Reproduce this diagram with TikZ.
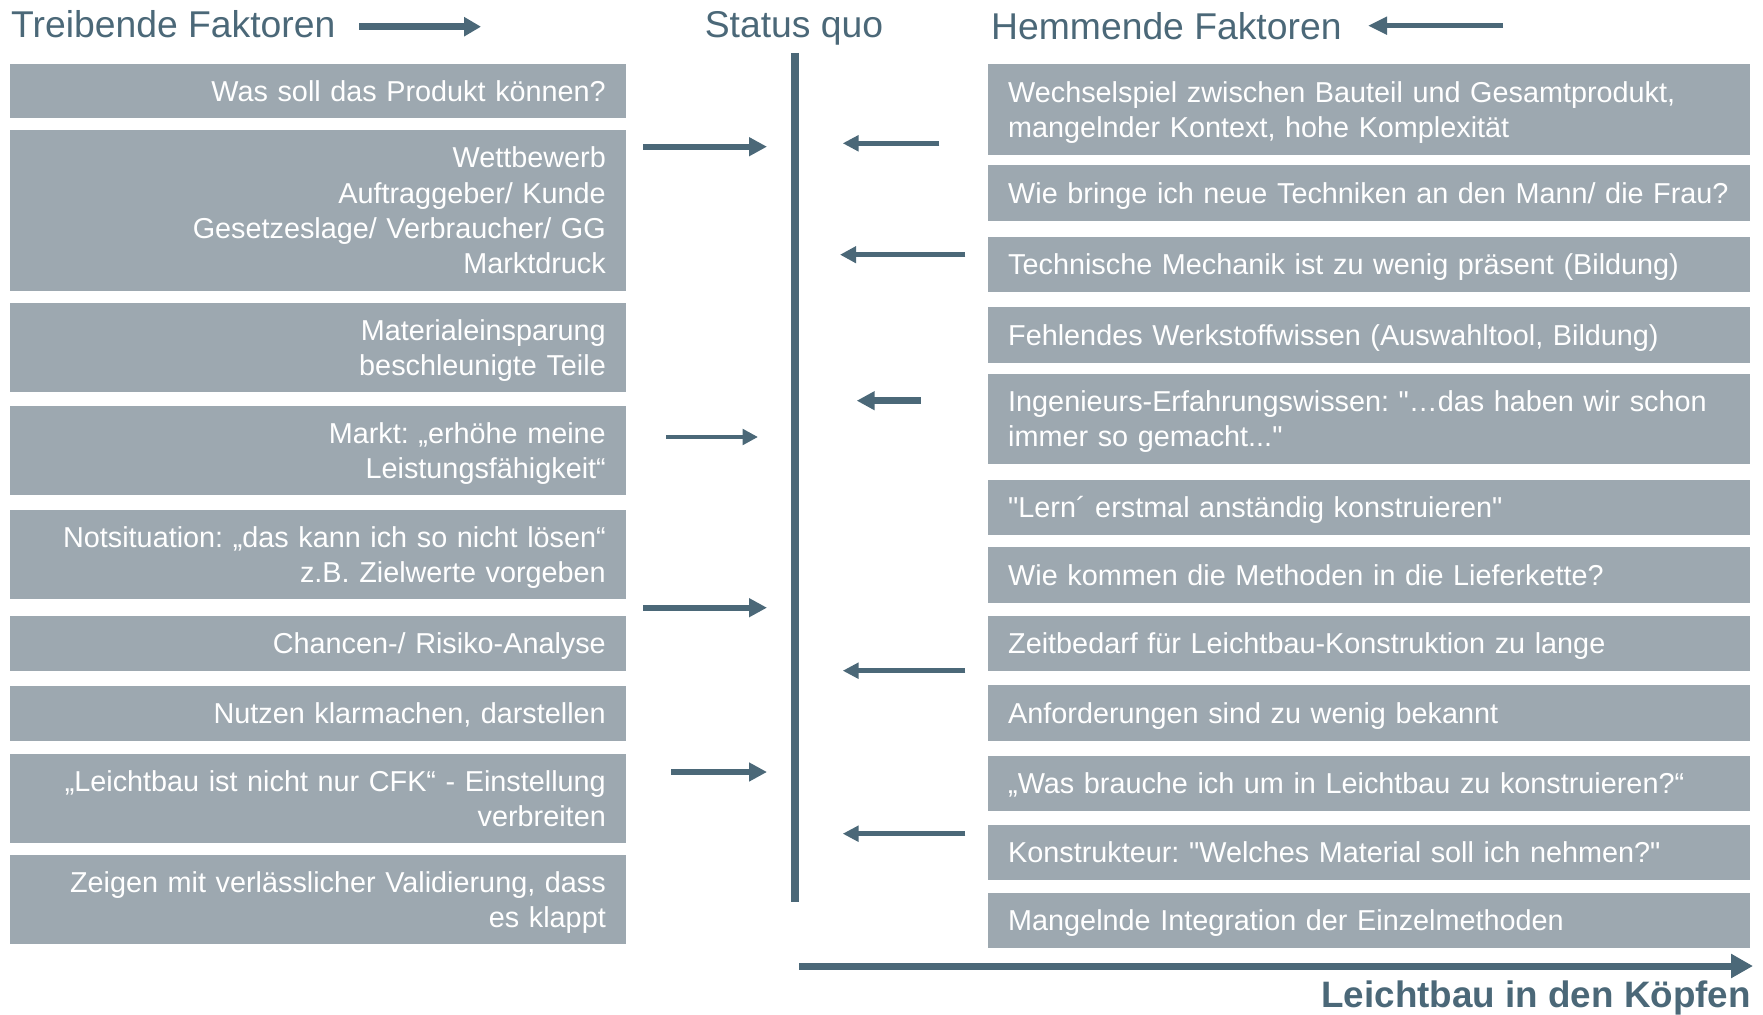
\documentclass[tikz,border=0pt]{standalone}
\usepackage{fontspec}
\setmainfont{Liberation Sans}[Ligatures=TeXOff]
\usetikzlibrary{arrows.meta}
\definecolor{boxgray}{HTML}{9DA8B0}
\definecolor{slate}{HTML}{4B6878}
\frenchspacing
\tikzset{
  fbox/.style={fill=boxgray, draw=none, inner sep=0pt, minimum width=616pt},
  rfbox/.style={fill=boxgray, draw=none, inner sep=0pt, minimum width=762pt},
  ltxt/.style={inner sep=0pt, text=white, text width=576pt, align=right, font=\fontsize{28.8}{35.3}\selectfont\frenchspacing},
  rtxt/.style={inner sep=0pt, text=white, text width=730pt, align=left, font=\fontsize{28.8}{35.3}\selectfont\frenchspacing},
  head/.style={inner sep=0pt, text=slate, font=\fontsize{37.3}{44}\selectfont},
  arr/.style={draw=slate},
}
\newcommand\LBox[5]{%
  \pgfmathsetmacro\myH{#3-#2}%
  \pgfmathsetmacro\myB{(#2+#3)/2+10.3-(#4-1)*17.65}%
  \node[fbox, minimum height=\myH pt, anchor=north west] (#1) at (10,#2) {};
  \node[ltxt, anchor=base east] (#1t) at (606,\myB) {#5};
}
\newcommand\RBox[5]{%
  \pgfmathsetmacro\myH{#3-#2}%
  \pgfmathsetmacro\myB{(#2+#3)/2+10.3-(#4-1)*17.65}%
  \node[rfbox, minimum height=\myH pt, anchor=north west] (#1) at (988,#2) {};
  \node[rtxt, anchor=base west] (#1t) at (1008,\myB) {#5};
}
\begin{document}
\begin{tikzpicture}[x=1pt,y=-1pt]
\path[use as bounding box] (0,0) rectangle (1763,1014);

% headers
\node[head, anchor=base west] (thead) at (11,37.3) {Treibende Faktoren};
\node[head, anchor=base] (shead) at (794,37.3) {Status quo};
\node[head, anchor=base west] (hhead) at (991,39.3) {Hemmende Faktoren};

% left boxes
\LBox{l1}{64}{118}{1}{Was soll das Produkt können?}
\LBox{l2}{130}{291}{4}{Wettbewerb\\Auftraggeber/ Kunde\\Gesetzeslage/ Verbraucher/ GG\\Marktdruck}
\LBox{l3}{303}{392}{2}{Materialeinsparung\\beschleunigte Teile}
\LBox{l4}{406}{495}{2}{Markt: „erhöhe meine\\Leistungsfähigkeit“}
\LBox{l5}{510}{599}{2}{Notsituation: „das kann ich so nicht lösen“\\z.B. Zielwerte vorgeben}
\LBox{l6}{616}{670.5}{1}{Chancen-/ Risiko-Analyse}
\LBox{l7}{686}{740.5}{1}{Nutzen klarmachen, darstellen}
\LBox{l8}{754}{843}{2}{„Leichtbau ist nicht nur CFK“ - Einstellung\\verbreiten}
\LBox{l9}{855}{944}{2}{Zeigen mit verlässlicher Validierung, dass\\es klappt}

% right boxes
\RBox{r1}{64}{155}{2}{Wechselspiel zwischen Bauteil und Gesamtprodukt,\\mangelnder Kontext, hohe Komplexität}
\RBox{r2}{165}{221}{1}{Wie bringe ich neue Techniken an den Mann/ die Frau?}
\RBox{r3}{237}{292}{1}{Technische Mechanik ist zu wenig präsent (Bildung)}
\RBox{r4}{307}{363}{1}{Fehlendes Werkstoffwissen (Auswahltool, Bildung)}
\RBox{r5}{374}{464}{2}{Ingenieurs-Erfahrungswissen: "…das haben wir schon\\immer so gemacht..."}
\RBox{r6}{480}{535}{1}{"Lern´ erstmal anständig konstruieren"}
\RBox{r7}{547}{603}{1}{Wie kommen die Methoden in die Lieferkette?}
\RBox{r8}{616}{671}{1}{Zeitbedarf für Leichtbau-Konstruktion zu lange}
\RBox{r9}{685}{741}{1}{Anforderungen sind zu wenig bekannt}
\RBox{r10}{756}{811}{1}{„Was brauche ich um in Leichtbau zu konstruieren?“}
\RBox{r11}{825}{880}{1}{Konstrukteur: "Welches Material soll ich nehmen?"}
\RBox{r12}{893}{948}{1}{Mangelnde Integration der Einzelmethoden}

% status quo line
\coordinate (vtop) at (795,53);
\coordinate (vbot) at (795,902);
\draw[arr, line width=8pt] (vtop) -- (vbot);

% header arrows
\coordinate (ths) at (359,26.7); \coordinate (the) at (481,26.7);
\draw[arr, line width=6.5pt, -{Triangle[length=17pt,width=18.5pt]}] (ths) -- (the);
\coordinate (hhs) at (1503,25.7); \coordinate (hhe) at (1368,25.7);
\draw[arr, line width=5.5pt, -{Triangle[length=19pt,width=17pt]}] (hhs) -- (hhe);

% driving arrows
\coordinate (a1s) at (643,146.7); \coordinate (a1e) at (767,146.7);
\draw[arr, line width=6pt, -{Triangle[length=18pt,width=18pt]}] (a1s) -- (a1e);
\coordinate (a2s) at (666,437); \coordinate (a2e) at (758,437);
\draw[arr, line width=4.7pt, -{Triangle[length=15.5pt,width=15.5pt]}] (a2s) -- (a2e);
\coordinate (a3s) at (643,607.7); \coordinate (a3e) at (767,607.7);
\draw[arr, line width=6pt, -{Triangle[length=18pt,width=18pt]}] (a3s) -- (a3e);
\coordinate (a4s) at (671,772); \coordinate (a4e) at (767,772);
\draw[arr, line width=6pt, -{Triangle[length=18pt,width=18pt]}] (a4s) -- (a4e);

% restraining arrows
\coordinate (b1s) at (939.3,143.3); \coordinate (b1e) at (842.7,143.3);
\draw[arr, line width=4.7pt, -{Triangle[length=16pt,width=15.5pt]}] (b1s) -- (b1e);
\coordinate (b2s) at (965.3,254.7); \coordinate (b2e) at (840,254.7);
\draw[arr, line width=4.7pt, -{Triangle[length=16pt,width=16pt]}] (b2s) -- (b2e);
\coordinate (b3s) at (920.7,400.7); \coordinate (b3e) at (856.7,400.7);
\draw[arr, line width=6.5pt, -{Triangle[length=18pt,width=18pt]}] (b3s) -- (b3e);
\coordinate (b4s) at (965.3,670.7); \coordinate (b4e) at (842.7,670.7);
\draw[arr, line width=4.7pt, -{Triangle[length=16pt,width=15.5pt]}] (b4s) -- (b4e);
\coordinate (b5s) at (965.3,833.7); \coordinate (b5e) at (842.7,833.7);
\draw[arr, line width=4.7pt, -{Triangle[length=16pt,width=15.5pt]}] (b5s) -- (b5e);

% bottom axis
\coordinate (xs) at (799,966); \coordinate (xe) at (1753,966);
\draw[arr, line width=7pt, -{Triangle[length=22pt,width=23pt]}] (xs) -- (xe);
\node[head, anchor=base east, font=\fontsize{36.8}{44}\selectfont\bfseries] (xlabel) at (1751,1007) {Leichtbau in den Köpfen};
\end{tikzpicture}
\end{document}
